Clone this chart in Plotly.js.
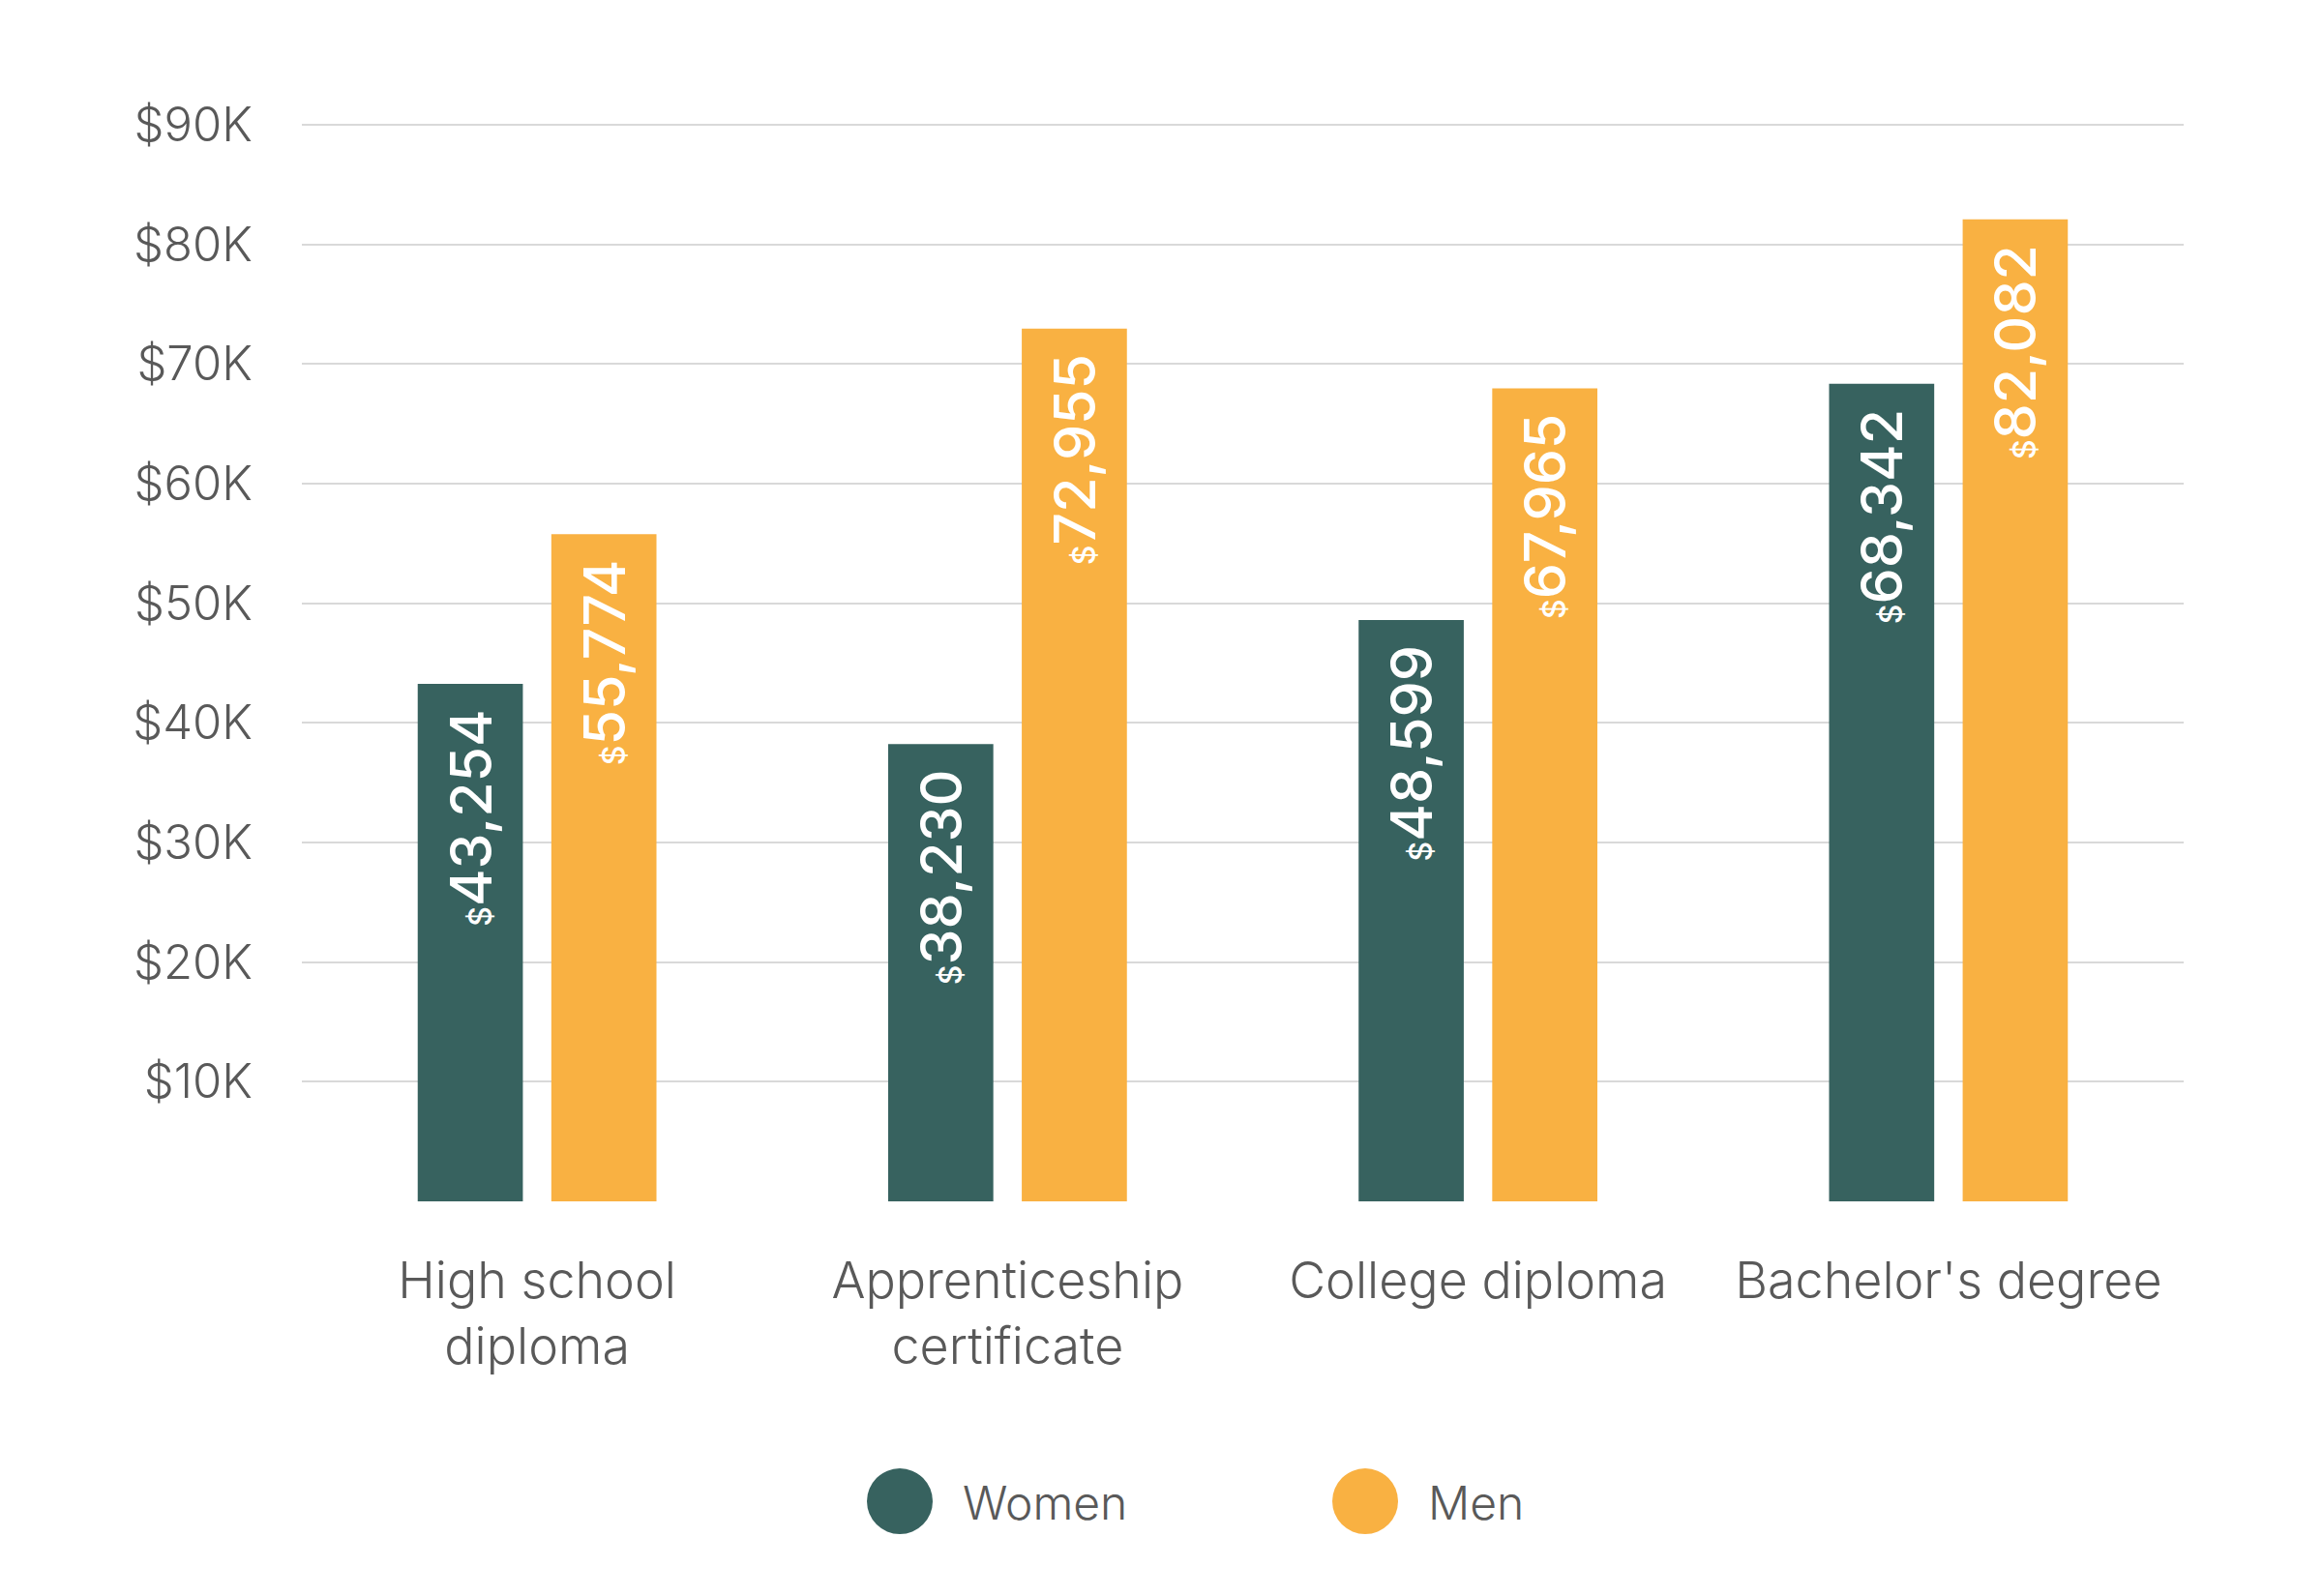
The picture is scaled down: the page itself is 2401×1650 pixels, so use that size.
<!DOCTYPE html>
<html>
<head>
<meta charset="utf-8">
<script src="https://cdn.plot.ly/plotly-3.0.1.min.js"></script>
<style>html,body{margin:0;padding:0;background:#fff;}</style>
</head>
<body>
<div id="chart" style="width:2401px;height:1650px;"></div>
<script>
// ---- data ----
var categories = ["High school diploma", "Apprenticeship certificate", "College diploma", "Bachelor's degree"];
var categoryLabels = ["High school<br>diploma", "Apprenticeship<br>certificate", "College diploma", "Bachelor's degree"];
var women = [43254, 38230, 48599, 68342];
var men = [55774, 72955, 67965, 82082];
var seriesNames = ["Women", "Men"];
var yTickVals = [10000, 20000, 30000, 40000, 50000, 60000, 70000, 80000, 90000];
var yTickText = ["$10K", "$20K", "$30K", "$40K", "$50K", "$60K", "$70K", "$80K", "$90K"];

var colorWomen = "#37625F";
var colorMen = "#F9B142";
var textGray = "#595959";
var FONT = "Inter, 'Open Sans', sans-serif";

function labels(vals) {
  return vals.map(function (v) {
    return '<span style="font-size:32px">$</span>' + v.toLocaleString('en-US') +
      '\u00A0<span style="font-size:28px">\u00A0</span>';
  });
}

function barTrace(name, vals, color) {
  return {
    type: 'bar',
    name: name,
    x: categories,
    y: vals,
    marker: { color: color, line: { width: 0 } },
    text: labels(vals),
    texttemplate: '%{text}',
    textposition: 'inside',
    insidetextanchor: 'end',
    textangle: -90,
    constraintext: 'none',
    insidetextfont: { family: FONT, size: 59, weight: 500, color: '#ffffff' },
    hoverinfo: 'skip',
    showlegend: false
  };
}

function legendTrace(name, color) {
  return {
    type: 'scatter',
    mode: 'markers',
    name: name,
    x: [null],
    y: [null],
    marker: { color: color, size: 16, symbol: 'circle', line: { width: 0 } },
    hoverinfo: 'skip',
    showlegend: true
  };
}

var data = [
  barTrace(seriesNames[0], women, colorWomen),
  barTrace(seriesNames[1], men, colorMen),
  legendTrace(seriesNames[0], colorWomen),
  legendTrace(seriesNames[1], colorMen)
];

var layout = {
  width: 2401,
  height: 1650,
  paper_bgcolor: '#ffffff',
  plot_bgcolor: '#ffffff',
  margin: { l: 312, r: 144, t: 124, b: 408, autoexpand: false },
  barmode: 'group',
  bargap: 0.432,
  bargroupgap: 0.213,
  font: { family: FONT, color: textGray },
  xaxis: {
    type: 'category',
    categoryorder: 'array',
    categoryarray: categories,
    tickmode: 'array',
    tickvals: categories,
    ticktext: categoryLabels,
    tickfont: { family: FONT, size: 52, weight: 300, color: textGray },
    ticks: '',
    ticklabelstandoff: 47,
    showgrid: false,
    showline: false,
    zeroline: false,
    fixedrange: true
  },
  yaxis: {
    range: [0, 90400],
    tickmode: 'array',
    tickvals: yTickVals,
    ticktext: yTickText,
    tickfont: { family: FONT, size: 49, weight: 300, color: textGray },
    ticks: '',
    ticklabelstandoff: 50,
    showgrid: true,
    gridcolor: '#d9d9d9',
    gridwidth: 2,
    showline: false,
    zeroline: false,
    fixedrange: true
  },
  showlegend: true,
  legend: {
    orientation: 'h',
    x: 0.3306,
    xanchor: 'left',
    y: -0.2776,
    yanchor: 'middle',
    entrywidth: 436,
    font: { family: FONT, size: 48, weight: 300, color: textGray },
    bgcolor: 'rgba(0,0,0,0)',
    borderwidth: 0
  },
  hovermode: false
};

Plotly.newPlot('chart', data, layout, { displayModeBar: false, staticPlot: true }).then(function (gd) {
  gd.querySelectorAll('.legend [clip-path]').forEach(function (e) {
    e.removeAttribute('clip-path');
  });
  gd.querySelectorAll('.legend .legendpoints path.scatterpts').forEach(function (p) {
    p.setAttribute('transform', 'translate(-25,0) scale(4.25)');
  });
});
</script>
</body>
</html>
